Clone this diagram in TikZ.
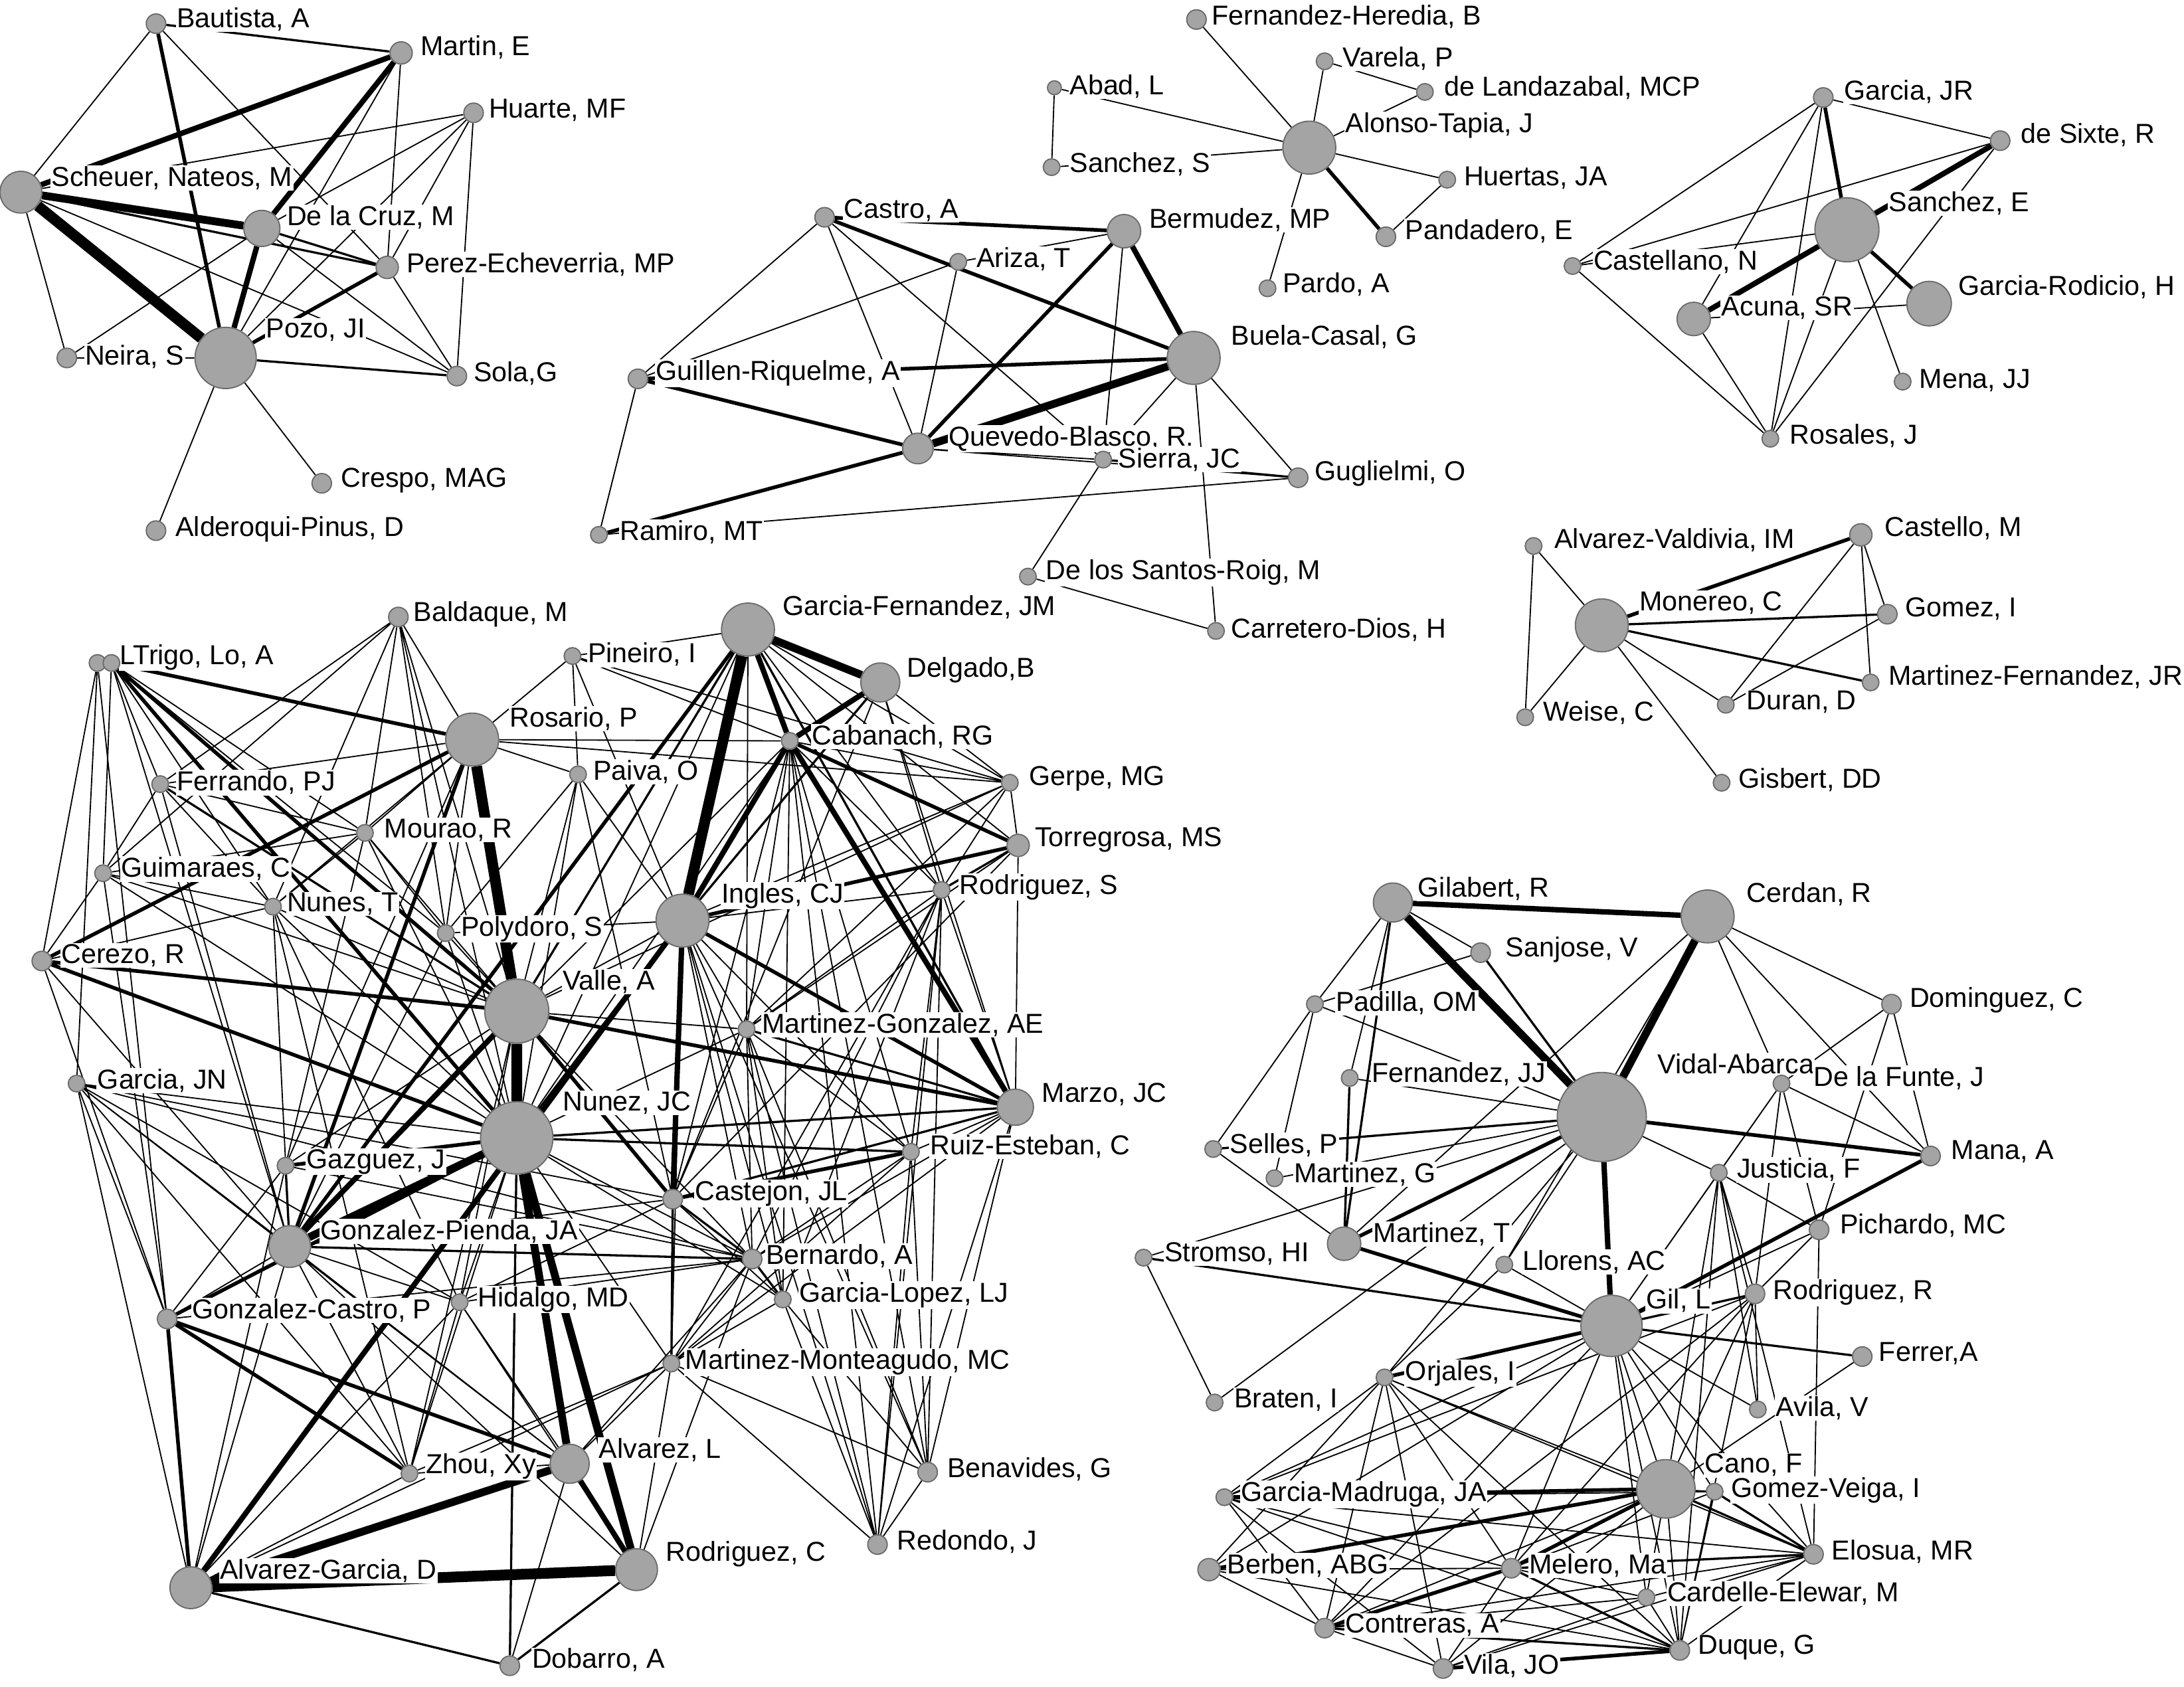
\documentclass[tikz,border=0pt]{standalone}
\usepackage{fontspec}
\setmainfont{Liberation Sans}
\usepackage{xcolor}
\usepackage{tikz}
\definecolor{nodegray}{HTML}{A4A4A4}
\definecolor{nodeline}{HTML}{6A6A6A}
\pgfdeclarelayer{edges}
\pgfdeclarelayer{names}
\pgfsetlayers{edges,names,main}

\begin{document}
\begin{tikzpicture}[x=0.02cm, y=-0.02cm,
  person/.style={circle, fill=nodegray, draw=nodeline, line width=0.5pt, inner sep=0pt, minimum size=0.04cm*#1},
  lab/.style={anchor=west, fill=white, inner sep=0.4pt, font=\fontsize{11.2}{12}\selectfont},
  e1/.style={line width=0.5pt}, e2/.style={line width=0.9pt}, e3/.style={line width=1.5pt},
  e4/.style={line width=2.2pt}, e5/.style={line width=3.2pt}, e6/.style={line width=4.4pt}]
\useasboundingbox (0,0) rectangle (1568,1211);

% authors, top left group
\node[person=7] (bautista) at (112,17) {};
\node[person=8] (martin) at (288,38) {};
\node[person=7] (huarte) at (340,81) {};
\node[person=15] (scheuer) at (15,138) {};
\node[person=13] (delacruz) at (188,164) {};
\node[person=8] (perez) at (278,192) {};
\node[person=7] (neira) at (48,257) {};
\node[person=22] (pozo) at (162,257) {};
\node[person=7] (sola) at (328,270) {};
\node[person=7] (crespo) at (231,347) {};
\node[person=7] (alderoqui) at (112,381) {};
% top middle groups
\node[person=7] (fheredia) at (859,14) {};
\node[person=6] (varela) at (951,44) {};
\node[person=6] (landazabal) at (1023,66) {};
\node[person=5] (abad) at (757,63) {};
\node[person=19] (alonso) at (940,106) {};
\node[person=6] (sanchezs) at (755,120) {};
\node[person=6] (huertas) at (1039,129) {};
\node[person=7] (pandadero) at (995,170) {};
\node[person=6] (pardo) at (910,207) {};
\node[person=7] (castro) at (592,156) {};
\node[person=6] (ariza) at (688,188) {};
\node[person=12] (bermudez) at (807,166) {};
\node[person=19] (buela) at (857,257) {};
\node[person=7] (guillen) at (458,272) {};
\node[person=11] (quevedo) at (659,322) {};
\node[person=6] (sierra) at (792,330) {};
\node[person=7] (guglielmi) at (932,343) {};
\node[person=6] (ramiro) at (430,384) {};
\node[person=6] (santos) at (738,414) {};
\node[person=6] (carretero) at (873,453) {};
% top right groups
\node[person=7] (garciajr) at (1309,70) {};
\node[person=7] (desixte) at (1436,101) {};
\node[person=23] (sancheze) at (1326,165) {};
\node[person=6] (castellano) at (1129,191) {};
\node[person=12] (acuna) at (1216,229) {};
\node[person=16] (rodicio) at (1385,218) {};
\node[person=6] (mena) at (1366,274) {};
\node[person=6] (rosales) at (1271,315) {};
\node[person=6] (avaldivia) at (1101,392) {};
\node[person=8] (castello) at (1336,384) {};
\node[person=19] (monereo) at (1150,449) {};
\node[person=7] (gomezi) at (1355,441) {};
\node[person=6] (mfernandez) at (1343,490) {};
\node[person=6] (duran) at (1239,506) {};
\node[person=6] (weise) at (1095,515) {};
\node[person=6] (gisbert) at (1236,562) {};
% bottom left group
\node[person=7] (baldaque) at (286,443) {};
\node[person=6] (lo) at (70,476) {};
\node[person=6] (trigo) at (80,476) {};
\node[person=6] (pineiro) at (411,471) {};
\node[person=19] (garciaf) at (537,452) {};
\node[person=14] (delgado) at (632,490) {};
\node[person=19] (rosario) at (339,531) {};
\node[person=6] (cabanach) at (567,532) {};
\node[person=6] (ferrando) at (115,563) {};
\node[person=6] (paiva) at (415,556) {};
\node[person=6] (gerpe) at (725,562) {};
\node[person=6] (mourao) at (262,598) {};
\node[person=8] (torregrosa) at (731,607) {};
\node[person=6] (guimaraes) at (74,627) {};
\node[person=6] (rodriguezs) at (676,639) {};
\node[person=6] (nunest) at (196,651) {};
\node[person=19] (ingles) at (490,661) {};
\node[person=6] (polydoro) at (320,670) {};
\node[person=7] (cerezo) at (30,690) {};
\node[person=23] (valle) at (371,726) {};
\node[person=6] (mgonzalez) at (536,739) {};
\node[person=6] (garciajn) at (55,778) {};
\node[person=13] (marzo) at (729,795) {};
\node[person=26] (nunez) at (371,817) {};
\node[person=6] (ruiz) at (654,827) {};
\node[person=6] (gazguez) at (205,837) {};
\node[person=7] (castejon) at (483,861) {};
\node[person=15] (gpienda) at (208,895) {};
\node[person=7] (bernardo) at (540,904) {};
\node[person=6] (glopez) at (562,933) {};
\node[person=6] (hidalgo) at (330,935) {};
\node[person=7] (gcastro) at (120,947) {};
\node[person=6] (monteagudo) at (482,979) {};
\node[person=14] (alvarezl) at (409,1051) {};
\node[person=6] (zhou) at (294,1058) {};
\node[person=7] (benavides) at (666,1057) {};
\node[person=7] (redondo) at (630,1109) {};
\node[person=15] (rodriguezc) at (457,1127) {};
\node[person=15] (agarcia) at (137,1140) {};
\node[person=7] (dobarro) at (366,1196) {};
% bottom right group
\node[person=14] (gilabert) at (1000,648) {};
\node[person=19] (cerdan) at (1226,658) {};
\node[person=7] (sanjose) at (1063,684) {};
\node[person=6] (padilla) at (944,721) {};
\node[person=7] (dominguez) at (1358,721) {};
\node[person=6] (fernandezjj) at (969,774) {};
\node[person=32] (vidal) at (1150,802) {};
\node[person=6] (delafunte) at (1279,778) {};
\node[person=6] (selles) at (871,825) {};
\node[person=7] (mana) at (1386,830) {};
\node[person=6] (martinezg) at (915,846) {};
\node[person=6] (justicia) at (1234,842) {};
\node[person=12] (martinezt) at (965,893) {};
\node[person=7] (pichardo) at (1306,883) {};
\node[person=6] (stromso) at (821,903) {};
\node[person=6] (llorens) at (1080,908) {};
\node[person=22] (gil) at (1157,952) {};
\node[person=7] (rodriguezr) at (1260,929) {};
\node[person=7] (ferrer) at (1337,974) {};
\node[person=6] (orjales) at (994,989) {};
\node[person=6] (braten) at (872,1007) {};
\node[person=6] (avila) at (1262,1012) {};
\node[person=21] (cano) at (1196,1069) {};
\node[person=6] (gveiga) at (1231,1071) {};
\node[person=6] (gmadruga) at (879,1075) {};
\node[person=7] (elosua) at (1302,1116) {};
\node[person=8] (berben) at (868,1127) {};
\node[person=7] (melero) at (1085,1126) {};
\node[person=6] (cardelle) at (1182,1147) {};
\node[person=7] (contreras) at (951,1169) {};
\node[person=7] (duque) at (1206,1185) {};
\node[person=7] (vila) at (1036,1198) {};

\begin{pgfonlayer}{names}
\node[lab] (bautista-t) at (126,14) {Bautista, A};
\node[lab] (martin-t) at (301,34) {Martin, E};
\node[lab] (huarte-t) at (350,79) {Huarte, MF};
\node[lab] (scheuer-t) at (36,128) {Scheuer, Nateos, M};
\node[lab] (delacruz-t) at (205,156) {De la Cruz, M};
\node[lab] (perez-t) at (291,190) {Perez-Echeverria, MP};
\node[lab] (neira-t) at (60,256) {Neira, S};
\node[lab] (pozo-t) at (190,237) {Pozo, JI};
\node[lab] (sola-t) at (339,268) {Sola,G};
\node[lab] (crespo-t) at (244,345) {Crespo, MAG};
\node[lab] (alderoqui-t) at (125,380) {Alderoqui-Pinus, D};
\node[lab] (fheredia-t) at (869,12) {Fernandez-Heredia, B};
\node[lab] (varela-t) at (963,42) {Varela, P};
\node[lab] (landazabal-t) at (1036,63) {de Landazabal, MCP};
\node[lab] (abad-t) at (767,62) {Abad, L};
\node[lab] (alonso-t) at (965,90) {Alonso-Tapia, J};
\node[lab] (sanchezs-t) at (767,118) {Sanchez, S};
\node[lab] (huertas-t) at (1050,128) {Huertas, JA};
\node[lab] (pandadero-t) at (1008,166) {Pandadero, E};
\node[lab] (pardo-t) at (920,204) {Pardo, A};
\node[lab] (castro-t) at (605,151) {Castro, A};
\node[lab] (ariza-t) at (700,186) {Ariza, T};
\node[lab] (bermudez-t) at (824,158) {Bermudez, MP};
\node[lab] (buela-t) at (883,242) {Buela-Casal, G};
\node[lab] (guillen-t) at (470,268) {Guillen-Riquelme, A};
\node[lab] (quevedo-t) at (680,315) {Quevedo-Blasco, R.};
\node[lab] (sierra-t) at (802,330) {Sierra, JC};
\node[lab] (guglielmi-t) at (943,340) {Guglielmi, O};
\node[lab] (ramiro-t) at (444,382) {Ramiro, MT};
\node[lab] (santos-t) at (750,411) {De los Santos-Roig, M};
\node[lab] (carretero-t) at (883,452) {Carretero-Dios, H};
\node[lab] (garciajr-t) at (1323,66) {Garcia, JR};
\node[lab] (desixte-t) at (1450,97) {de Sixte, R};
\node[lab] (sancheze-t) at (1355,146) {Sanchez, E};
\node[lab] (castellano-t) at (1143,188) {Castellano, N};
\node[lab] (acuna-t) at (1235,221) {Acuna, SR};
\node[lab] (rodicio-t) at (1405,206) {Garcia-Rodicio, H};
\node[lab] (mena-t) at (1377,273) {Mena, JJ};
\node[lab] (rosales-t) at (1284,313) {Rosales, J};
\node[lab] (avaldivia-t) at (1115,388) {Alvarez-Valdivia, IM};
\node[lab] (castello-t) at (1352,379) {Castello, M};
\node[lab] (monereo-t) at (1176,433) {Monereo, C};
\node[lab] (gomezi-t) at (1367,437) {Gomez, I};
\node[lab] (mfernandez-t) at (1355,486) {Martinez-Fernandez, JR};
\node[lab] (duran-t) at (1253,504) {Duran, D};
\node[lab] (weise-t) at (1107,512) {Weise, C};
\node[lab] (gisbert-t) at (1247,560) {Gisbert, DD};
\node[lab] (baldaque-t) at (296,441) {Baldaque, M};
\node[lab] (trigo-t) at (85,472) {LTrigo, Lo, A};
\node[lab] (pineiro-t) at (421,470) {Pineiro, I};
\node[lab] (garciaf-t) at (561,436) {Garcia-Fernandez, JM};
\node[lab] (delgado-t) at (650,481) {Delgado,B};
\node[lab] (rosario-t) at (365,516) {Rosario, P};
\node[lab] (cabanach-t) at (582,529) {Cabanach, RG};
\node[lab] (ferrando-t) at (126,562) {Ferrando, PJ};
\node[lab] (paiva-t) at (425,554) {Paiva, O};
\node[lab] (gerpe-t) at (738,559) {Gerpe, MG};
\node[lab] (mourao-t) at (275,596) {Mourao, R};
\node[lab] (torregrosa-t) at (742,603) {Torregrosa, MS};
\node[lab] (guimaraes-t) at (86,624) {Guimaraes, C};
\node[lab] (rodriguezs-t) at (688,637) {Rodriguez, S};
\node[lab] (nunest-t) at (205,649) {Nunes, T};
\node[lab] (ingles-t) at (517,643) {Ingles, CJ};
\node[lab] (polydoro-t) at (330,667) {Polydoro, S};
\node[lab] (cerezo-t) at (43,686) {Cerezo, R};
\node[lab] (valle-t) at (403,705) {Valle, A};
\node[lab] (mgonzalez-t) at (546,736) {Martinez-Gonzalez, AE};
\node[lab] (garciajn-t) at (69,776) {Garcia, JN};
\node[lab] (marzo-t) at (747,786) {Marzo, JC};
\node[lab] (nunez-t) at (403,792) {Nunez, JC};
\node[lab] (ruiz-t) at (667,823) {Ruiz-Esteban, C};
\node[lab] (gazguez-t) at (219,834) {Gazguez, J};
\node[lab] (castejon-t) at (498,857) {Castejon, JL};
\node[lab] (gpienda-t) at (229,884) {Gonzalez-Pienda, JA};
\node[lab] (bernardo-t) at (549,902) {Bernardo, A};
\node[lab] (glopez-t) at (573,930) {Garcia-Lopez, LJ};
\node[lab] (hidalgo-t) at (342,933) {Hidalgo, MD};
\node[lab] (gcastro-t) at (137,941) {Gonzalez-Castro, P};
\node[lab] (monteagudo-t) at (491,978) {Martinez-Monteagudo, MC};
\node[lab] (alvarezl-t) at (429,1041) {Alvarez, L};
\node[lab] (zhou-t) at (305,1053) {Zhou, Xy};
\node[lab] (benavides-t) at (679,1055) {Benavides, G};
\node[lab] (redondo-t) at (643,1107) {Redondo, J};
\node[lab] (rodriguezc-t) at (477,1116) {Rodriguez, C};
\node[lab] (agarcia-t) at (157,1128) {Alvarez-Garcia, D};
\node[lab] (dobarro-t) at (381,1192) {Dobarro, A};
\node[lab] (gilabert-t) at (1017,638) {Gilabert, R};
\node[lab] (cerdan-t) at (1253,642) {Cerdan, R};
\node[lab] (sanjose-t) at (1080,682) {Sanjose, V};
\node[lab] (padilla-t) at (958,720) {Padilla, OM};
\node[lab] (dominguez-t) at (1370,718) {Dominguez, C};
\node[lab] (fernandezjj-t) at (984,771) {Fernandez, JJ};
\node[lab] (vidal-t) at (1189,764) {Vidal-Abarca};
\node[lab] (delafunte-t) at (1301,774) {De la Funte, J};
\node[lab] (selles-t) at (882,822) {Selles, P};
\node[lab] (mana-t) at (1400,827) {Mana, A};
\node[lab] (martinezg-t) at (928,843) {Martinez, G};
\node[lab] (justicia-t) at (1246,840) {Justicia, F};
\node[lab] (martinezt-t) at (985,886) {Martinez, T};
\node[lab] (pichardo-t) at (1320,880) {Pichardo, MC};
\node[lab] (stromso-t) at (835,900) {Stromso, HI};
\node[lab] (llorens-t) at (1092,906) {Llorens, AC};
\node[lab] (gil-t) at (1181,934) {Gil, L};
\node[lab] (rodriguezr-t) at (1272,928) {Rodriguez, R};
\node[lab] (ferrer-t) at (1348,972) {Ferrer,A};
\node[lab] (orjales-t) at (1008,986) {Orjales, I};
\node[lab] (braten-t) at (885,1005) {Braten, I};
\node[lab] (avila-t) at (1274,1011) {Avila, V};
\node[lab] (cano-t) at (1223,1052) {Cano, F};
\node[lab] (gveiga-t) at (1242,1070) {Gomez-Veiga, I};
\node[lab] (gmadruga-t) at (890,1073) {Garcia-Madruga, JA};
\node[lab] (elosua-t) at (1314,1114) {Elosua, MR};
\node[lab] (berben-t) at (880,1124) {Berben, ABG};
\node[lab] (melero-t) at (1097,1124) {Melero, Ma};
\node[lab] (cardelle-t) at (1196,1144) {Cardelle-Elewar, M};
\node[lab] (contreras-t) at (965,1167) {Contreras, A};
\node[lab] (duque-t) at (1218,1183) {Duque, G};
\node[lab] (vila-t) at (1050,1196) {Vila, JO};
\end{pgfonlayer}

\begin{pgfonlayer}{edges}
\fill[white] (0,0) rectangle (1568,1211);
% top left
\draw[e1] (bautista) -- (scheuer) (bautista) -- (perez) (huarte) -- (scheuer) (huarte) -- (delacruz)
  (huarte) -- (pozo) (huarte) -- (perez) (huarte) -- (sola) (martin) -- (perez) (martin) -- (pozo)
  (scheuer) -- (neira) (scheuer) -- (sola) (delacruz) -- (sola) (delacruz) -- (neira) (pozo) -- (neira)
  (pozo) -- (crespo) (pozo) -- (alderoqui) (perez) -- (sola);
\draw[e2] (bautista) -- (martin) (scheuer) -- (perez) (delacruz) -- (perez) (pozo) -- (sola);
\draw[e3] (bautista) -- (pozo) (pozo) -- (perez);
\draw[e4] (martin) -- (scheuer) (martin) -- (delacruz) (delacruz) -- (pozo);
\draw[e5] (scheuer) -- (delacruz);
\draw[e6] (scheuer) -- (pozo);
% top middle
\draw[e1] (abad) -- (sanchezs) (abad) -- (alonso) (sanchezs) -- (alonso) (fheredia) -- (alonso)
  (varela) -- (alonso) (varela) -- (landazabal) (landazabal) -- (alonso) (alonso) -- (huertas)
  (huertas) -- (pandadero) (alonso) -- (pardo);
\draw[e3] (alonso) -- (pandadero);
\draw[e1] (castro) -- (guillen) (castro) -- (quevedo) (castro) -- (sierra) (ariza) -- (quevedo)
  (ariza) -- (guillen) (ariza) -- (bermudez) (bermudez) -- (sierra) (guillen) -- (ramiro)
  (quevedo) -- (sierra) (ramiro) -- (guglielmi) (buela) -- (sierra) (buela) -- (guglielmi)
  (buela) -- (carretero) (sierra) -- (santos) (santos) -- (carretero) (quevedo) -- (guglielmi);
\draw[e2] (sierra) -- (guglielmi);
\draw[e3] (castro) -- (bermudez) (castro) -- (buela) (bermudez) -- (quevedo) (guillen) -- (buela)
  (guillen) -- (quevedo) (quevedo) -- (ramiro);
\draw[e4] (bermudez) -- (buela);
\draw[e5] (quevedo) -- (buela);
% top right
\draw[e1] (garciajr) -- (desixte) (garciajr) -- (castellano) (garciajr) -- (rosales) (garciajr) -- (acuna)
  (desixte) -- (castellano) (desixte) -- (rosales) (sancheze) -- (castellano) (sancheze) -- (mena)
  (sancheze) -- (rosales) (acuna) -- (rodicio) (acuna) -- (rosales) (castellano) -- (rosales);
\draw[e3] (garciajr) -- (sancheze) (sancheze) -- (rodicio);
\draw[e4] (desixte) -- (sancheze) (sancheze) -- (acuna);
\draw[e1] (avaldivia) -- (weise) (avaldivia) -- (monereo) (castello) -- (gomezi) (castello) -- (mfernandez)
  (castello) -- (duran) (monereo) -- (duran) (monereo) -- (weise) (monereo) -- (gisbert) (gomezi) -- (duran);
\draw[e2] (monereo) -- (gomezi) (monereo) -- (mfernandez);
\draw[e3] (castello) -- (monereo);
% bottom left
\draw[e1] (baldaque) -- (rosario) (baldaque) -- (valle) (baldaque) -- (nunez) (baldaque) -- (ferrando)
  (baldaque) -- (mourao) (baldaque) -- (nunest) (baldaque) -- (polydoro) (baldaque) -- (guimaraes)
  (trigo) -- (ferrando) (trigo) -- (guimaraes) (lo) -- (cerezo) (trigo) -- (nunest) (trigo) -- (mourao)
  (trigo) -- (gpienda) (lo) -- (garciajn) (trigo) -- (polydoro) (lo) -- (gcastro)
  (pineiro) -- (rosario) (pineiro) -- (cabanach) (pineiro) -- (gerpe) (pineiro) -- (ingles)
  (pineiro) -- (paiva) (pineiro) -- (garciaf)
  (rosario) -- (cabanach) (rosario) -- (gerpe) (rosario) -- (paiva) (rosario) -- (ferrando)
  (rosario) -- (mourao) (rosario) -- (nunest) (rosario) -- (polydoro) (rosario) -- (gazguez)
  (ferrando) -- (guimaraes) (ferrando) -- (mourao) (ferrando) -- (nunest) (ferrando) -- (gpienda)
  (paiva) -- (valle) (paiva) -- (nunez) (paiva) -- (ingles) (paiva) -- (polydoro) (paiva) -- (castejon)
  (mourao) -- (nunest) (mourao) -- (guimaraes) (mourao) -- (polydoro) (mourao) -- (valle)
  (mourao) -- (nunez) (mourao) -- (gazguez)
  (guimaraes) -- (cerezo) (guimaraes) -- (nunest) (guimaraes) -- (valle) (guimaraes) -- (nunez)
  (guimaraes) -- (gcastro)
  (nunest) -- (valle) (nunest) -- (nunez) (nunest) -- (gpienda) (nunest) -- (hidalgo) (nunest) -- (cerezo)
  (nunest) -- (zhou)
  (polydoro) -- (valle) (polydoro) -- (nunez) (polydoro) -- (ingles) (polydoro) -- (gpienda)
  (cerezo) -- (gpienda) (cerezo) -- (gcastro)
  (garciajn) -- (gpienda) (garciajn) -- (nunez) (garciajn) -- (agarcia) (garciajn) -- (gcastro)
  (garciajn) -- (zhou) (garciajn) -- (castejon) (garciajn) -- (hidalgo) (garciajn) -- (alvarezl)
  (garciajn) -- (bernardo)
  (valle) -- (ingles) (valle) -- (mgonzalez) (valle) -- (cabanach) (valle) -- (gerpe) (valle) -- (bernardo)
  (valle) -- (gazguez) (valle) -- (zhou) (valle) -- (hidalgo)
  (nunez) -- (mgonzalez) (nunez) -- (bernardo) (nunez) -- (glopez) (nunez) -- (hidalgo)
  (nunez) -- (monteagudo) (nunez) -- (cabanach) (nunez) -- (garciaf)
  (ingles) -- (mgonzalez) (ingles) -- (rodriguezs) (ingles) -- (gerpe) (ingles) -- (ruiz) (ingles) -- (bernardo)
  (ingles) -- (glopez) (ingles) -- (monteagudo) (ingles) -- (redondo) (ingles) -- (benavides)
  (garciaf) -- (rodriguezs) (garciaf) -- (gerpe) (garciaf) -- (torregrosa) (garciaf) -- (mgonzalez)
  (delgado) -- (gerpe) (delgado) -- (rodriguezs) (delgado) -- (marzo) (delgado) -- (castejon)
  (cabanach) -- (gerpe) (cabanach) -- (rodriguezs) (cabanach) -- (mgonzalez) (cabanach) -- (ruiz)
  (cabanach) -- (castejon) (cabanach) -- (benavides) (cabanach) -- (redondo) (cabanach) -- (glopez)
  (gerpe) -- (torregrosa) (gerpe) -- (rodriguezs) (gerpe) -- (mgonzalez)
  (torregrosa) -- (mgonzalez) (torregrosa) -- (marzo) (torregrosa) -- (castejon)
  (rodriguezs) -- (marzo) (rodriguezs) -- (mgonzalez) (rodriguezs) -- (ruiz) (rodriguezs) -- (bernardo)
  (rodriguezs) -- (benavides) (rodriguezs) -- (redondo) (rodriguezs) -- (glopez) (rodriguezs) -- (monteagudo)
  (mgonzalez) -- (ruiz) (mgonzalez) -- (castejon) (mgonzalez) -- (bernardo) (mgonzalez) -- (benavides)
  (mgonzalez) -- (redondo) (mgonzalez) -- (glopez)
  (marzo) -- (ruiz) (marzo) -- (bernardo) (marzo) -- (monteagudo) (marzo) -- (redondo) (marzo) -- (benavides)
  (ruiz) -- (bernardo) (ruiz) -- (monteagudo) (ruiz) -- (benavides) (ruiz) -- (redondo)
  (castejon) -- (glopez) (castejon) -- (gpienda) (castejon) -- (hidalgo)
  (bernardo) -- (monteagudo) (bernardo) -- (hidalgo) (bernardo) -- (gazguez) (bernardo) -- (gcastro)
  (glopez) -- (monteagudo) (glopez) -- (redondo) (glopez) -- (benavides)
  (monteagudo) -- (redondo) (monteagudo) -- (benavides) (monteagudo) -- (alvarezl) (monteagudo) -- (rodriguezc)
  (monteagudo) -- (zhou) (monteagudo) -- (agarcia)
  (benavides) -- (redondo)
  (gpienda) -- (hidalgo) (gpienda) -- (gcastro) (gpienda) -- (zhou) (gpienda) -- (alvarezl)
  (gpienda) -- (rodriguezc) (gpienda) -- (agarcia)
  (hidalgo) -- (zhou) (hidalgo) -- (alvarezl) (hidalgo) -- (agarcia) (hidalgo) -- (rodriguezc)
  (gcastro) -- (gazguez) (alvarezl) -- (zhou) (alvarezl) -- (dobarro) (alvarezl) -- (bernardo)
  (rodriguezc) -- (bernardo) (zhou) -- (agarcia) (zhou) -- (nunez) (agarcia) -- (gazguez);
\draw[e2] (ferrando) -- (valle) (nunez) -- (ingles) (garciaf) -- (marzo) (ingles) -- (delgado)
  (torregrosa) -- (rodriguezs) (mgonzalez) -- (marzo) (marzo) -- (castejon) (castejon) -- (bernardo)
  (castejon) -- (monteagudo) (bernardo) -- (gpienda) (bernardo) -- (glopez) (gpienda) -- (gazguez)
  (agarcia) -- (dobarro) (rodriguezc) -- (dobarro) (nunez) -- (dobarro) (nunez) -- (ruiz)
  (nunez) -- (marzo) (garciaf) -- (valle);
\draw[e3] (trigo) -- (rosario) (trigo) -- (valle) (trigo) -- (nunez) (cerezo) -- (valle) (cerezo) -- (nunez)
  (valle) -- (marzo) (rosario) -- (cerezo) (rosario) -- (gpienda) (gcastro) -- (alvarezl)
  (cabanach) -- (torregrosa) (ingles) -- (torregrosa) (gcastro) -- (agarcia) (ingles) -- (marzo)
  (nunez) -- (gcastro) (castejon) -- (ruiz) (valle) -- (castejon) (garciaf) -- (gpienda)
  (gcastro) -- (zhou) (nunez) -- (gazguez);
\draw[e4] (alvarezl) -- (rodriguezc) (ingles) -- (castejon) (cabanach) -- (ingles) (garciaf) -- (cabanach)
  (cabanach) -- (marzo) (agarcia) -- (ingles) (gpienda) -- (valle) (delgado) -- (cabanach);
\draw[e5] (nunez) -- (alvarezl) (nunez) -- (rodriguezc) (garciaf) -- (delgado) (gpienda) -- (nunez)
  (agarcia) -- (alvarezl);
\draw[e6] (rosario) -- (valle) (valle) -- (nunez) (garciaf) -- (ingles) (agarcia) -- (rodriguezc);
% bottom right
\draw[e1] (gilabert) -- (padilla) (gilabert) -- (fernandezjj) (gilabert) -- (sanjose) (cerdan) -- (dominguez)
  (cerdan) -- (delafunte) (cerdan) -- (mana) (cerdan) -- (martinezt) (cerdan) -- (llorens)
  (dominguez) -- (delafunte) (dominguez) -- (mana) (dominguez) -- (pichardo)
  (sanjose) -- (padilla) (padilla) -- (selles) (padilla) -- (vidal) (padilla) -- (martinezg)
  (fernandezjj) -- (vidal) (vidal) -- (martinezg) (vidal) -- (llorens) (vidal) -- (justicia)
  (vidal) -- (stromso) (vidal) -- (orjales) (vidal) -- (braten) (selles) -- (martinezt)
  (delafunte) -- (mana) (delafunte) -- (justicia) (delafunte) -- (gil) (delafunte) -- (pichardo)
  (delafunte) -- (rodriguezr)
  (justicia) -- (gil) (justicia) -- (rodriguezr) (justicia) -- (pichardo) (justicia) -- (avila)
  (justicia) -- (cano) (justicia) -- (elosua) (justicia) -- (duque)
  (pichardo) -- (gil) (pichardo) -- (rodriguezr) (pichardo) -- (elosua)
  (llorens) -- (gil) (llorens) -- (orjales)
  (gil) -- (avila) (gil) -- (cano) (gil) -- (gveiga) (gil) -- (elosua) (gil) -- (melero) (gil) -- (contreras)
  (gil) -- (gmadruga) (gil) -- (berben) (gil) -- (duque) (gil) -- (cardelle)
  (rodriguezr) -- (cano) (rodriguezr) -- (melero) (rodriguezr) -- (contreras) (rodriguezr) -- (gmadruga)
  (rodriguezr) -- (duque) (rodriguezr) -- (avila) (ferrer) -- (cano)
  (orjales) -- (melero) (orjales) -- (cano) (orjales) -- (elosua) (orjales) -- (contreras) (orjales) -- (berben)
  (orjales) -- (duque) (orjales) -- (gmadruga) (orjales) -- (vila)
  (braten) -- (stromso)
  (cano) -- (gveiga) (cano) -- (contreras) (cano) -- (vila) (cano) -- (duque) (cano) -- (cardelle)
  (gveiga) -- (melero) (gveiga) -- (duque) (gveiga) -- (gmadruga)
  (gmadruga) -- (elosua) (gmadruga) -- (melero) (gmadruga) -- (contreras) (gmadruga) -- (duque) (gmadruga) -- (vila)
  (elosua) -- (contreras) (elosua) -- (cardelle) (elosua) -- (duque) (elosua) -- (vila)
  (berben) -- (melero) (berben) -- (contreras) (berben) -- (duque)
  (melero) -- (vila) (melero) -- (cardelle)
  (cardelle) -- (contreras) (cardelle) -- (duque) (cardelle) -- (vila) (contreras) -- (vila);
\draw[e2] (gilabert) -- (martinezt) (stromso) -- (gil) (selles) -- (vidal) (sanjose) -- (vidal) (gil) -- (rodriguezr)
  (gil) -- (ferrer) (contreras) -- (duque) (elosua) -- (melero) (cano) -- (elosua) (gveiga) -- (elosua)
  (melero) -- (duque) (fernandezjj) -- (martinezt);
\draw[e3] (vidal) -- (mana) (vidal) -- (martinezt) (martinezt) -- (gil) (mana) -- (gil) (cano) -- (berben)
  (cano) -- (gmadruga) (cano) -- (melero) (gil) -- (orjales) (melero) -- (contreras) (vila) -- (duque);
\draw[e4] (gilabert) -- (cerdan) (vidal) -- (gil);
\draw[e5] (cerdan) -- (vidal) (gilabert) -- (vidal);
\end{pgfonlayer}
\end{tikzpicture}
\end{document}
